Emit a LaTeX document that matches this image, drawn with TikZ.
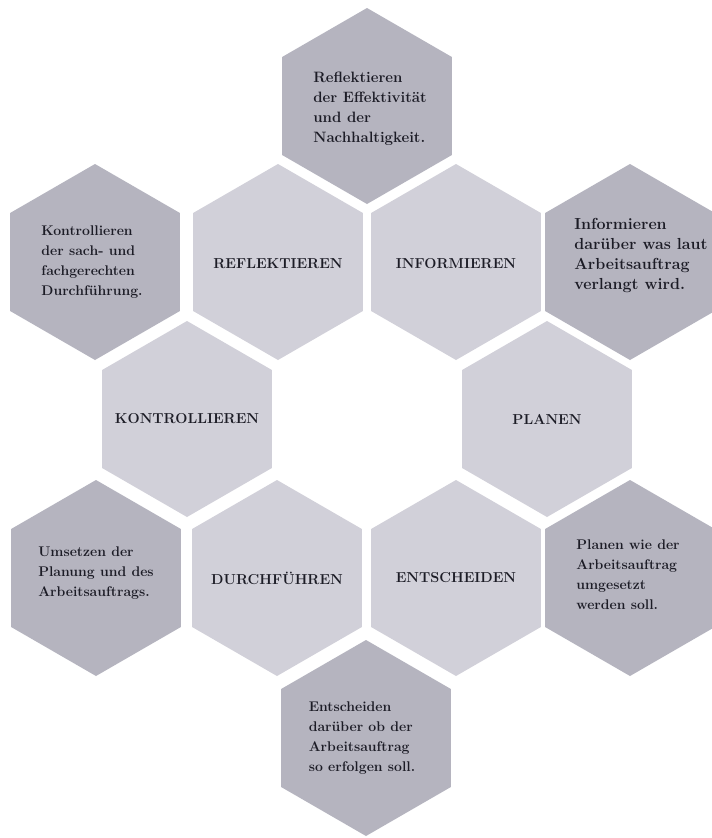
\documentclass[tikz,border=0pt]{standalone}
\usetikzlibrary{shapes.geometric}
\definecolor{hexlight}{RGB}{209,208,217}
\definecolor{hexdark}{RGB}{181,180,191}
\definecolor{hexink}{RGB}{28,28,38}
\tikzset{
  hexbase/.style={regular polygon, regular polygon sides=6, shape border rotate=30,
    minimum size=196pt, inner sep=0pt, outer sep=0pt},
  phase/.style={hexbase, fill=hexlight},
  note/.style={hexbase, fill=hexdark},
  phasetext/.style={inner sep=0pt, text=hexink,
    font=\fontsize{14.4}{16}\selectfont\bfseries},
  notetext/.style={align=left, inner sep=0pt, text=hexink,
    font=\fontsize{14}{20}\selectfont\bfseries}
}
\begin{document}
\begin{tikzpicture}[x=1pt,y=-1pt]
\useasboundingbox[fill=white] (0,0) rectangle (712,838);
% outer ring: description cells
\node[note] (n-refl) at (367,106) {};
\node[note] (n-kont) at (95,262) {};
\node[note] (n-info) at (630,262) {};
\node[note] (n-durch) at (96,578) {};
\node[note] (n-plan) at (630,578) {};
\node[note] (n-ent) at (366,738) {};
% inner ring: phase cells
\node[phase] (p-refl) at (278,262) {};
\node[phase] (p-info) at (456,262) {};
\node[phase] (p-kont) at (187,419) {};
\node[phase] (p-plan) at (547,419) {};
\node[phase] (p-durch) at (277,578) {};
\node[phase] (p-ent) at (456,578) {};
% description texts
\node[notetext, font=\fontsize{15}{20}\selectfont\bfseries] (t-refl) at ([shift={(3,3)}]n-refl.center)
  {Reflektieren\\der Effektivität\\und der\\Nachhaltigkeit.};
\node[notetext] (t-kont) at ([shift={(-3,0)}]n-kont.center)
  {Kontrollieren\\der sach- und\\fachgerechten\\Durchführung.};
\node[notetext, font=\fontsize{16}{20}\selectfont\bfseries] (t-info) at ([shift={(11,-6)}]n-info.center)
  {Informieren\\darüber was laut\\Arbeitsauftrag\\verlangt wird.};
\node[notetext] (t-durch) at ([shift={(0,-5)}]n-durch.center)
  {Umsetzen der\\Planung und des\\Arbeitsauftrags.};
\node[notetext] (t-plan) at ([shift={(-2,-3)}]n-plan.center)
  {Planen wie der\\Arbeitsauftrag\\umgesetzt\\werden soll.};
\node[notetext] (t-ent) at ([shift={(-4,0)}]n-ent.center)
  {Entscheiden\\darüber ob der\\Arbeitsauftrag\\so erfolgen soll.};
% phase labels
\node[phasetext] (l-refl) at ([yshift=-2]p-refl.center) {REFLEKTIEREN};
\node[phasetext] (l-info) at ([yshift=-2]p-info.center) {INFORMIEREN};
\node[phasetext] (l-kont) at (p-kont.center) {KONTROLLIEREN};
\node[phasetext] (l-plan) at (p-plan.center) {PLANEN};
\node[phasetext] (l-durch) at (p-durch.center) {DURCHFÜHREN};
\node[phasetext] (l-ent) at (p-ent.center) {ENTSCHEIDEN};
\end{tikzpicture}
\end{document}
